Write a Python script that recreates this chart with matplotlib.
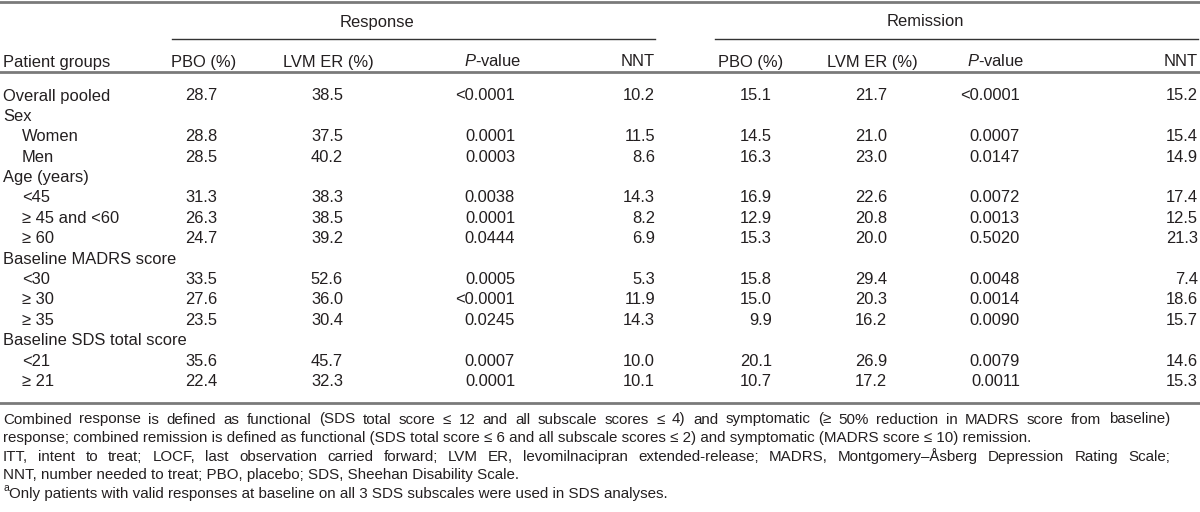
import matplotlib
matplotlib.use("Agg")
import matplotlib.pyplot as plt

plt.rcParams["font.family"] = ["Liberation Sans", "DejaVu Sans"]
plt.rcParams["mathtext.fontset"] = "custom"
plt.rcParams["mathtext.it"] = "Liberation Sans:italic"
plt.rcParams["mathtext.rm"] = "Liberation Sans"

TEXT = "#231f20"
RULE = "#7a7a7a"
FS = 11.9
FS_NOTE = 10.9

# table data (None = group heading row without values)
groups = ["Overall pooled", "Sex", "Women", "Men", "Age (years)", "<45",
          "\u2265 45 and <60", "\u2265 60", "Baseline MADRS score", "<30",
          "\u2265 30", "\u2265 35", "Baseline SDS total score", "<21", "\u2265 21"]
indented = [False, False, True, True, False, True, True, True, False, True,
            True, True, False, True, True]

resp_pbo = ["28.7", None, "28.8", "28.5", None, "31.3", "26.3", "24.7", None,
            "33.5", "27.6", "23.5", None, "35.6", "22.4"]
resp_lvm = ["38.5", None, "37.5", "40.2", None, "38.3", "38.5", "39.2", None,
            "52.6", "36.0", "30.4", None, "45.7", "32.3"]
resp_p = ["<0.0001", None, "0.0001", "0.0003", None, "0.0038", "0.0001", "0.0444",
          None, "0.0005", "<0.0001", "0.0245", None, "0.0007", "0.0001"]
resp_nnt = ["10.2", None, "11.5", "8.6", None, "14.3", "8.2", "6.9", None,
            "5.3", "11.9", "14.3", None, "10.0", "10.1"]

rem_pbo = ["15.1", None, "14.5", "16.3", None, "16.9", "12.9", "15.3", None,
           "15.8", "15.0", "9.9", None, "20.1", "10.7"]
rem_lvm = ["21.7", None, "21.0", "23.0", None, "22.6", "20.8", "20.0", None,
           "29.4", "20.3", "16.2", None, "26.9", "17.2"]
rem_p = ["<0.0001", None, "0.0007", "0.0147", None, "0.0072", "0.0013", "0.5020",
         None, "0.0048", "0.0014", "0.0090", None, "0.0079", "0.0011"]
rem_nnt = ["15.2", None, "15.4", "14.9", None, "17.4", "12.5", "21.3", None,
           "7.4", "18.6", "15.7", None, "14.6", "15.3"]

col_headers = ["PBO (%)", "LVM ER (%)", r"$\mathit{P}$-value", "NNT"]

footnotes = [
    "Combined response is defined as functional (SDS total score \u2264 12 and all subscale "
    "scores \u2264 4) and symptomatic (\u2265 50% reduction in MADRS score from baseline)",
    "response; combined remission is defined as functional (SDS total score \u2264 6 and all "
    "subscale scores \u2264 2) and symptomatic (MADRS score \u2264 10) remission.",
    "ITT, intent to treat; LOCF, last observation carried forward; LVM ER, levomilnacipran "
    "extended-release; MADRS, Montgomery\u2013\u00c5sberg Depression Rating Scale;",
    "NNT, number needed to treat; PBO, placebo; SDS, Sheehan Disability Scale.",
    "Only patients with valid responses at baseline on all 3 SDS subscales were used in SDS analyses.",
]
justified = [True, False, True, False, False]

fig = plt.figure(figsize=(12, 5.12), dpi=100)
ax = fig.add_axes([0, 0, 1, 1])
ax.set_xlim(0, 1200)
ax.set_ylim(512, 0)
ax.axis("off")
renderer = fig.canvas.get_renderer()


def put(x, y, s, ha="left", size=FS):
    # y is the visual middle of the digits; baseline sits a bit lower
    return ax.text(x, y + 5.5, s, ha=ha, va="baseline", fontsize=size, color=TEXT)


def justify(line, x0, x1, y, size):
    words = line.split(" ")
    items = [put(0, y, w, size=size) for w in words]
    widths = [t.get_window_extent(renderer).width for t in items]
    gap = (x1 - x0 - sum(widths)) / (len(words) - 1)
    x = x0
    for t, w in zip(items, widths):
        t.set_x(x)
        x += w + gap


# rules
ax.plot([0, 1200], [1.5, 1.5], color=RULE, lw=2.0)
ax.plot([172, 655], [39, 39], color="#333333", lw=1.0)
ax.plot([715, 1198], [39, 39], color="#333333", lw=1.0)
ax.plot([0, 1200], [71.5, 71.5], color=RULE, lw=2.0)
ax.plot([0, 1200], [403, 403], color=RULE, lw=2.0)

# spanner headings
put(377, 21, "Response", ha="center")
put(925, 21, "Remission", ha="center")

# column headings
put(3, 61, "Patient groups")
header_x = [204, 328, 493, 655, 751, 872, 996, 1198]
header_ha = ["center", "center", "center", "right"] * 2
for x, ha, s in zip(header_x, header_ha, col_headers * 2):
    put(x, 61, s, ha=ha)

# body
columns = [resp_pbo, resp_lvm, resp_p, resp_nnt, rem_pbo, rem_lvm, rem_p, rem_nnt]
right_x = [217, 343, 515, 655, 772, 887, 1020, 1198]
row_y0, row_dy = 95, 20.4
for i, label in enumerate(groups):
    y = row_y0 + i * row_dy
    put(22 if indented[i] else 3, y, label)
    for col, x in zip(columns, right_x):
        if col[i] is not None:
            put(x, y, col[i], ha="right")

# footnotes
note_y0, note_dy = 418, 18.6
for i, line in enumerate(footnotes):
    y = note_y0 + i * note_dy
    if justified[i]:
        justify(line, 3, 1170, y, FS_NOTE)
    elif i == len(footnotes) - 1:
        ax.text(3, y - 1, "a", ha="left", va="baseline", fontsize=7.5, color=TEXT)
        put(9, y, line, size=FS_NOTE)
    else:
        put(3, y, line, size=FS_NOTE)

fig.savefig("out.png", dpi=100)
